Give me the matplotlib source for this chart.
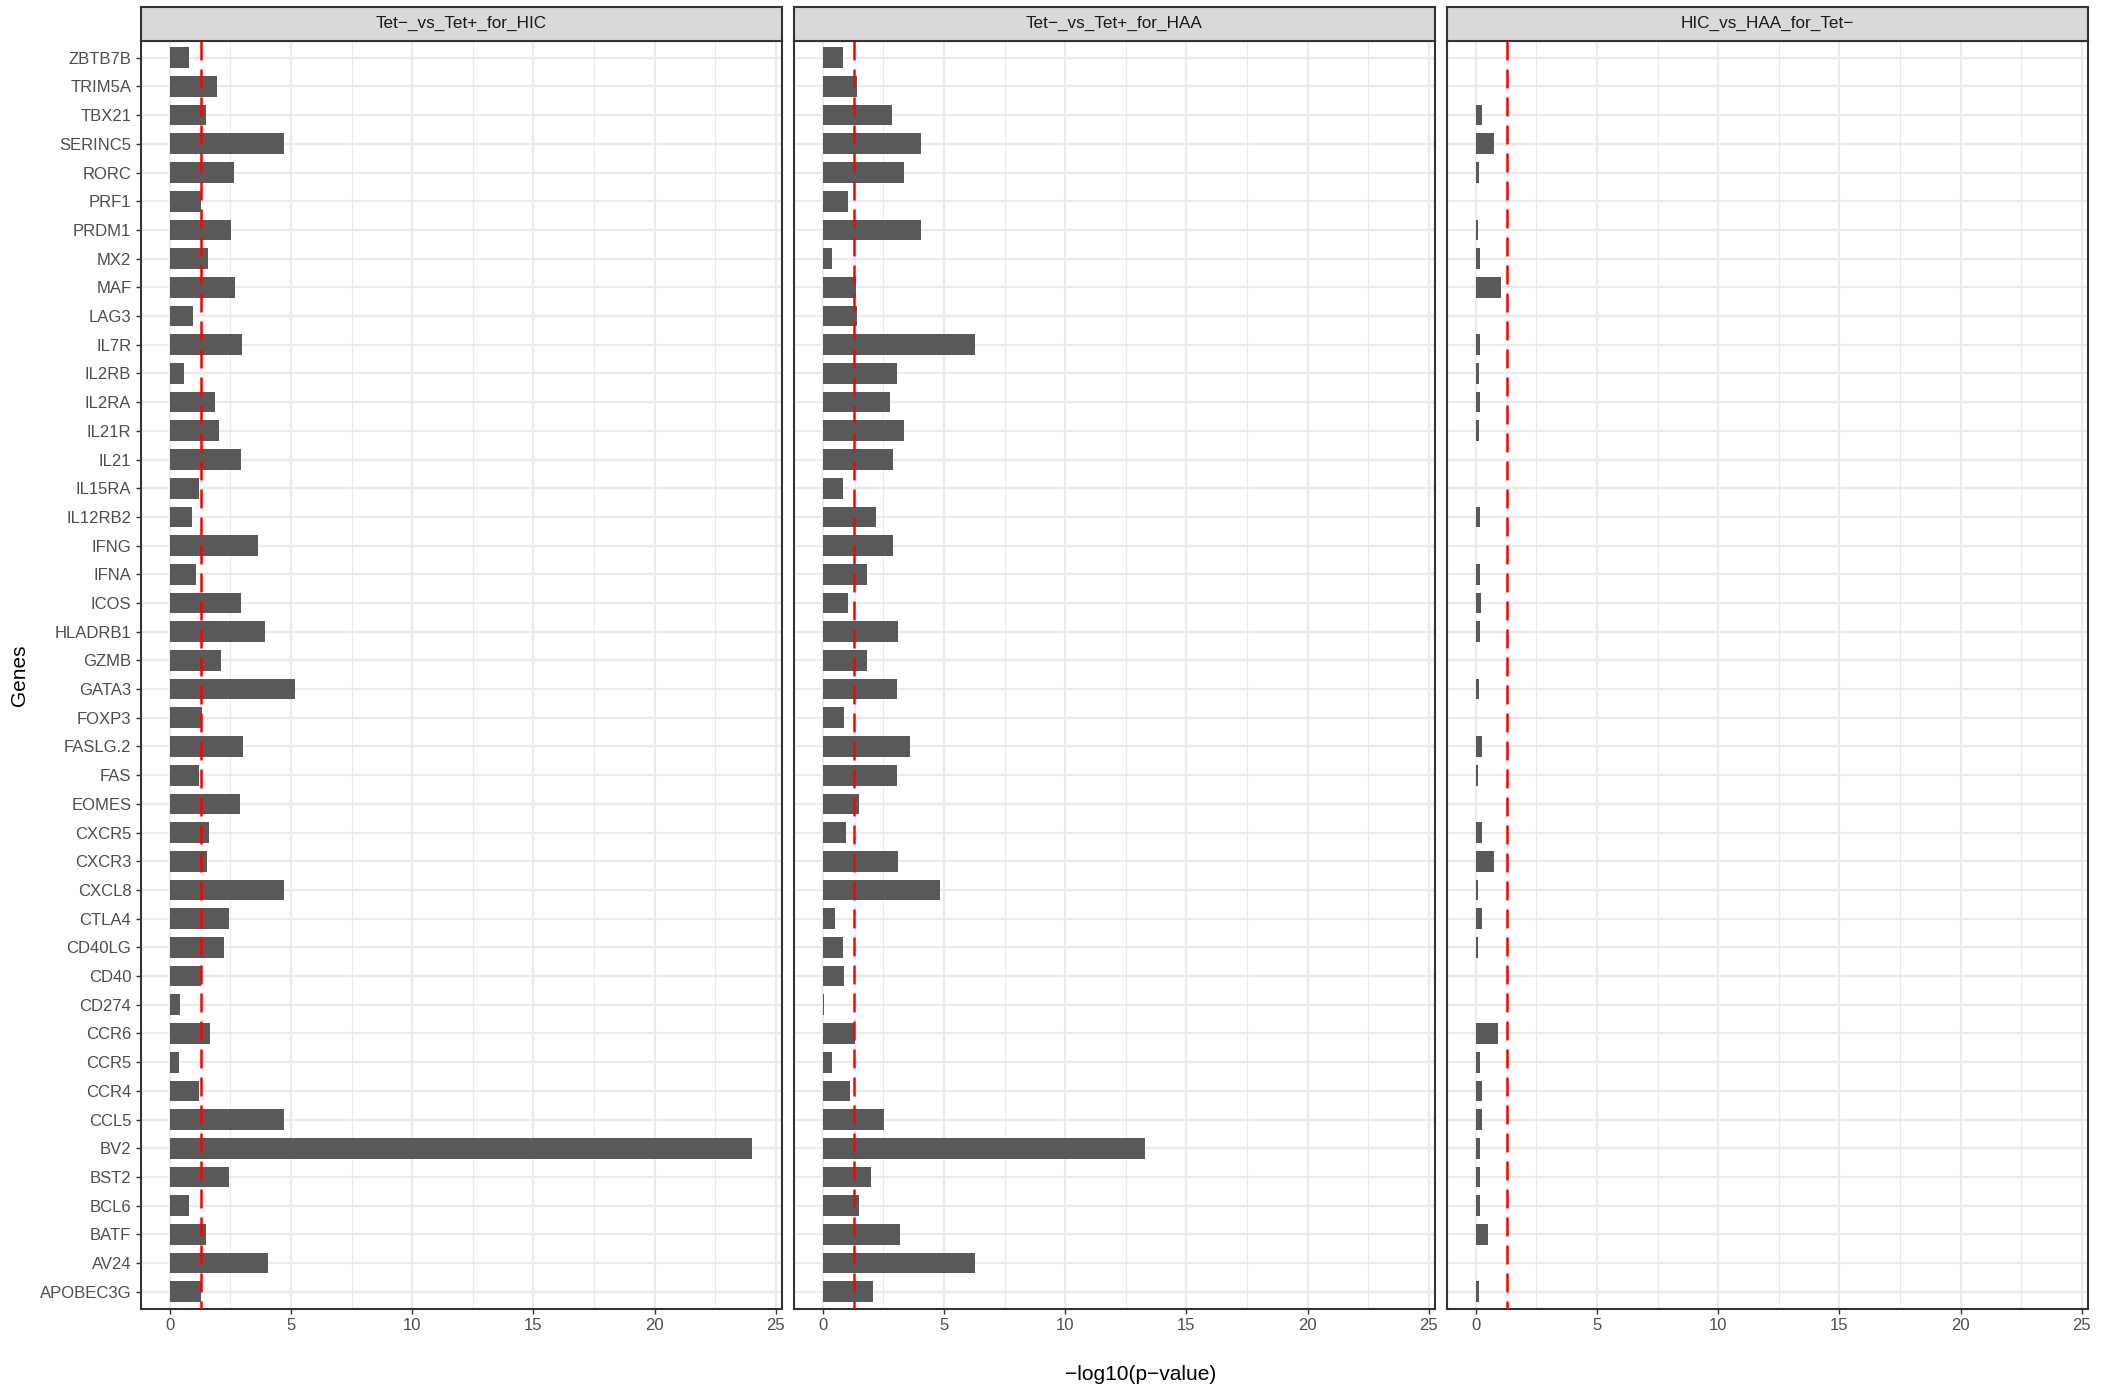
import numpy as np
import matplotlib.pyplot as plt

plt.rcParams['font.family'] = ['Liberation Sans', 'DejaVu Sans']

# genes as listed top to bottom in the chart
genes = ["ZBTB7B", "TRIM5A", "TBX21", "SERINC5", "RORC", "PRF1", "PRDM1", "MX2",
         "MAF", "LAG3", "IL7R", "IL2RB", "IL2RA", "IL21R", "IL21", "IL15RA",
         "IL12RB2", "IFNG", "IFNA", "ICOS", "HLADRB1", "GZMB", "GATA3", "FOXP3",
         "FASLG.2", "FAS", "EOMES", "CXCR5", "CXCR3", "CXCL8", "CTLA4", "CD40LG",
         "CD40", "CD274", "CCR6", "CCR5", "CCR4", "CCL5", "BV2", "BST2", "BCL6",
         "BATF", "AV24", "APOBEC3G"]

# -log10(p) per comparison
hic = [0.80, 1.95, 1.51, 4.72, 2.66, 1.28, 2.54, 1.59, 2.70, 0.96, 2.98, 0.61,
       1.87, 2.03, 2.94, 1.22, 0.92, 3.65, 1.09, 2.94, 3.92, 2.12, 5.16, 1.32,
       3.02, 1.22, 2.89, 1.64, 1.55, 4.72, 2.45, 2.24, 1.28, 0.44, 1.68, 0.40,
       1.22, 4.72, 24.03, 2.45, 0.80, 1.51, 4.05, 1.28]
haa = [0.83, 1.43, 2.88, 4.04, 3.34, 1.03, 4.04, 0.37, 1.39, 1.43, 6.29, 3.05,
       2.79, 3.34, 2.92, 0.83, 2.18, 2.92, 1.82, 1.03, 3.12, 1.82, 3.05, 0.90,
       3.61, 3.08, 1.52, 0.95, 3.12, 4.84, 0.50, 0.86, 0.90, 0.04, 1.34, 0.40,
       1.12, 2.55, 13.28, 1.98, 1.52, 3.17, 6.29, 2.09]
nan = np.nan
tet_neg = [nan, nan, 0.25, 0.75, 0.12, nan, 0.09, 0.16, 1.03, nan, 0.16, 0.12,
           0.16, 0.12, nan, nan, 0.16, nan, 0.16, 0.21, 0.16, nan, 0.12, nan,
           0.25, 0.09, nan, 0.25, 0.75, 0.09, 0.25, 0.09, nan, nan, 0.94, 0.16,
           0.28, 0.28, 0.16, 0.16, 0.16, 0.50, nan, 0.12]

facets = ["Tet\u2212_vs_Tet+_for_HIC", "Tet\u2212_vs_Tet+_for_HAA", "HIC_vs_HAA_for_Tet\u2212"]
series = [hic, haa, tet_neg]
cutoff = -np.log10(0.05)

W, H = 2118, 1389
fig = plt.figure(figsize=(W / 100, H / 100), dpi=100)

lefts = [140.5, 793.5, 1446.5]
pw = 641
top, bottom = 40.5, 1309
strip_top = 7

ypos = np.arange(len(genes))[::-1] + 1
xmax = np.nanmax(hic)
xlim = (-0.05 * xmax, xmax * 1.05)

for i, (name, vals) in enumerate(zip(facets, series)):
    ax = fig.add_axes([lefts[i] / W, (H - bottom) / H, pw / W, (bottom - top) / H])
    ax.set_facecolor('white')
    for x in np.arange(2.5, 25, 5):
        ax.axvline(x, color='#EBEBEB', lw=0.8, zorder=0)
    for x in np.arange(0, 26, 5):
        ax.axvline(x, color='#EBEBEB', lw=1.6, zorder=0)
    for y in ypos:
        ax.axhline(y, color='#EBEBEB', lw=1.6, zorder=0)
    v = np.array(vals, dtype=float)
    ax.barh(ypos, np.nan_to_num(v), height=0.72, color='#595959', zorder=2,
            linewidth=0)
    ax.plot([cutoff, cutoff], [44.6, 0.4], color='#FF0000', lw=1.8,
            linestyle=(0, (7.6, 3.6)), zorder=3)
    ax.set_xlim(*xlim)
    ax.set_ylim(0.4, len(genes) + 0.6)
    ax.set_xticks([0, 5, 10, 15, 20, 25])
    ax.tick_params(axis='x', length=3.6, width=1.0, color='#333333',
                   labelsize=12, labelcolor='#4D4D4D', pad=3)
    if i == 0:
        ax.set_yticks(ypos)
        ax.set_yticklabels(genes)
        ax.tick_params(axis='y', length=3.6, width=1.0, color='#333333',
                       labelsize=12, labelcolor='#4D4D4D', pad=3)
    else:
        ax.set_yticks([])
    for s in ax.spines.values():
        s.set_color('#333333')
        s.set_linewidth(1.5)

    # facet strip
    sax = fig.add_axes([lefts[i] / W, (H - top) / H, pw / W, (top - strip_top) / H])
    sax.set_facecolor('#D9D9D9')
    sax.set_xticks([])
    sax.set_yticks([])
    for s in sax.spines.values():
        s.set_color('#333333')
        s.set_linewidth(1.5)
    sax.text(0.5, 0.5, name, ha='center', va='center', fontsize=12.3,
             color='#1A1A1A', transform=sax.transAxes)

fig.text(1141 / W, 1 - 1374 / H, "\u2212log10(p\u2212value)", ha='center', va='center',
         fontsize=15, color='black')
fig.text(19 / W, 1 - 675 / H, "Genes", ha='center', va='center', rotation=90,
         fontsize=15, color='black')

fig.savefig('out.png', dpi=100, facecolor='white')
